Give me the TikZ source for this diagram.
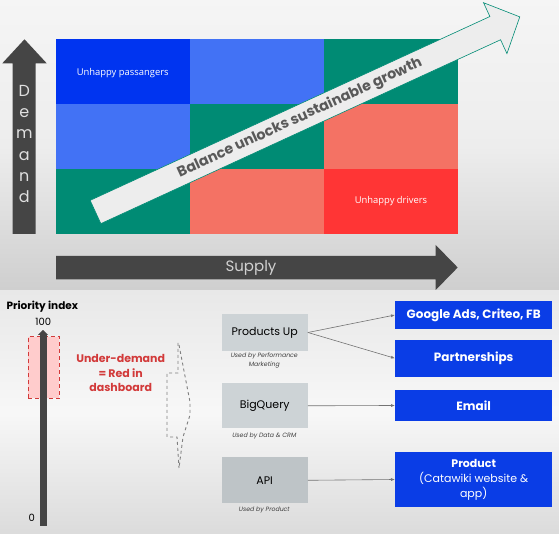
\documentclass[tikz,border=0pt]{standalone}
\usepackage{fontspec}
\setmainfont{Poppins}
\newfontfamily\opensans{Open Sans}
\usetikzlibrary{arrows.meta}
\definecolor{deepblue}{RGB}{0,52,240}
\definecolor{midblue}{RGB}{66,114,245}
\definecolor{teal}{RGB}{0,139,116}
\definecolor{salmon}{RGB}{244,114,100}
\definecolor{hotred}{RGB}{255,53,53}
\definecolor{axisgray}{RGB}{69,69,69}
\definecolor{srcgray}{RGB}{205,211,214}
\definecolor{apigray}{RGB}{190,196,199}
\definecolor{dstblue}{RGB}{10,61,230}
\definecolor{alertred}{RGB}{210,58,58}
\begin{document}
\begin{tikzpicture}[x=1pt,y=1pt,
    srcbox/.style={fill=srcgray, inner sep=0pt, minimum width=86pt, font=\fontsize{11}{13}\selectfont},
    dstbox/.style={fill=dstblue, inner sep=0pt, minimum width=157pt, text=white, align=center, font=\fontsize{11}{15}\selectfont},
    usedby/.style={text=black!75, align=center, font=\itshape\fontsize{6.2}{8.7}\selectfont},
    feed/.style={draw=black!55, line width=0.6pt, -{Latex[length=4pt,width=3pt]}}]
        \useasboundingbox (0,0) rectangle (559,534);
        \shade[top color=black!4, bottom color=black!19, middle color=black!7] (0,243) rectangle (559,534);
        \shade[top color=black!9, bottom color=black!14, middle color=black!3] (0,0) rectangle (559,243);

        % demand / supply grid
        \fill[deepblue] (56,430) rectangle (190,495);
        \fill[midblue] (190,430) rectangle (324,495);
        \fill[teal] (324,430) rectangle (458,495);
        \fill[midblue] (56,365) rectangle (190,430);
        \fill[teal] (190,365) rectangle (324,430);
        \fill[salmon] (324,365) rectangle (458,430);
        \fill[teal] (56,300) rectangle (190,365);
        \fill[salmon] (190,300) rectangle (324,365);
        \fill[hotred] (324,300) rectangle (458,365);
        \node[text=white, font=\opensans\fontsize{9.4}{12}\selectfont] at (122.7,461.3) {Unhappy passangers};
        \node[text=white, font=\opensans\fontsize{9.4}{12}\selectfont] at (391,333) {Unhappy drivers};

        % axes
        \fill[axisgray] (12.7,300) -- (12.7,470.7) -- (2.3,470.7) -- (24.5,494.7) -- (46.7,470.7) -- (35.7,470.7) -- (35.7,300) -- cycle;
        \node[text=black!12, align=center, font=\fontsize{16}{21.3}\selectfont] at (24.3,390) {D\\e\\m\\a\\n\\d};
        \fill[axisgray] (56,254.7) -- (435.7,254.7) -- (435.7,244) -- (457.7,266.5) -- (435.7,289) -- (435.7,278) -- (56,278) -- cycle;
        \node[text=black!18, font=\fontsize{15}{18}\selectfont] at (251,265.7) {Supply};

        % growth arrow
        \begin{scope}[shift={(95.5,322)}, rotate=24.7]
        \draw[fill=black!7, draw=teal, line width=0.6pt] (0,-12.8) -- (440,-12.8) -- (440,-28) -- (467,0) -- (440,28) -- (440,12.8) -- (0,12.8) -- cycle;
        \node[rotate=24.7, text=black!65, font=\bfseries\fontsize{14.3}{16}\selectfont] at (225,0) {Balance unlocks sustainable growth};
        \end{scope}

        % priority index
        \node[anchor=west, font=\bfseries\fontsize{10.5}{12}\selectfont] at (3,227) {Priority index};
        \node[font=\fontsize{10}{12}\selectfont] at (43.3,211.7) {100};
        \node[font=\fontsize{10}{12}\selectfont] at (31.7,15.7) {0};
        \draw[fill=red!20, draw=alertred, line width=1.5pt, dash pattern=on 4pt off 3pt] (28.3,135.7) rectangle (59.3,197.3);
        \draw[axisgray, line width=7pt, -{Triangle[length=5pt,width=10pt]}] (43,8) -- (43,204);
        \node[text=alertred, align=center, font=\bfseries\fontsize{11}{14.7}\selectfont] at (120.7,161) {Under-demand\\= Red in\\dashboard};
        \draw[black!50, line width=0.9pt, dashed] (178,191) -- (178,161) -- (167,161) -- (167,97) -- (177,97) -- (179,66);
        \draw[black!50, line width=0.9pt, dashed] (179,189) -- (190,132) -- (190,119) -- (183,97) -- (179,66);

        % feeds
        \node[srcbox, minimum height=37pt] (pu) at (264.7,201.5) {Products Up};
        \node[usedby] (pulabel) at (264.3,173.7) {Used by Performance\\Marketing};
        \node[srcbox, minimum height=45pt] (bq) at (264.7,128.2) {BigQuery};
        \node[usedby] (bqlabel) at (264.3,98) {Used by Data \& CRM};
        \node[srcbox, fill=apigray, minimum height=46pt] (api) at (264.7,53.7) {API};
        \node[usedby] (apilabel) at (264.3,24) {Used by Product};

        \node[dstbox, minimum height=28.6pt, font=\bfseries\fontsize{12}{15}\selectfont] (ads) at (473.7,219) {Google Ads, Criteo, FB};
        \node[dstbox, minimum height=36.7pt, font=\bfseries\fontsize{12}{15}\selectfont] (partner) at (473.7,175.7) {Partnerships};
        \node[dstbox, minimum height=31pt, font=\bfseries\fontsize{12}{15}\selectfont] (email) at (473.7,128.5) {Email};
        \node[dstbox, minimum height=54.4pt] (product) at (473.7,54.5) {\textbf{Product}\\(Catawiki website \&\\app)};

        \draw[feed] (pu.east) -- (ads.west);
        \draw[feed] (pu.east) -- (partner.west);
        \draw[feed] (bq.east) -- (email.west);
        \draw[feed] (api.east) -- (product.west);
    \end{tikzpicture}
\end{document}
